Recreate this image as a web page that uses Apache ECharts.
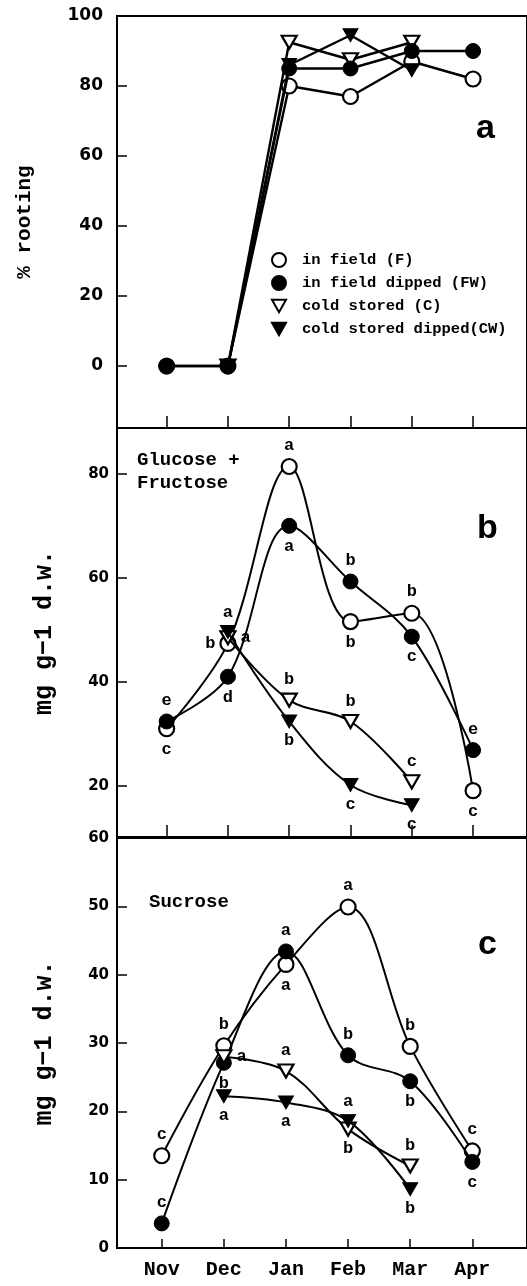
<!DOCTYPE html>
<html><head><meta charset="utf-8">
<script src="https://cdn.jsdelivr.net/npm/echarts@6/dist/echarts.min.js"></script>
<style>html,body{margin:0;padding:0;background:#fff}#c{width:527px;height:1286px}</style>
</head><body><div id="c"></div>
<script>
// ---- data ----
var months = ['Nov','Dec','Jan','Feb','Mar','Apr'];
var seriesNames = ['in field (F)','in field dipped (FW)','cold stored (C)','cold stored dipped(CW)'];
var rootTicks = [0,20,40,60,80,100];
var glucTicks = [20,40,60,80];
var sucTicks = [0,10,20,30,40,50,60];

// panel a: % rooting
var rootF  = [0, 0, 80, 77, 87, 82];
var rootFW = [0, 0, 85, 85, 90, 90];
var rootC  = [null, 0, 92.5, 87.5, 92.5, null];
var rootCW = [null, 0, 86, 94.5, 84.5, null];

// panel b: glucose + fructose
var glucF  = [31, 47.4, 81.4, 51.6, 53.2, 19.1];
var glucFW = [32.4, 41, 70, 59.3, 48.7, 26.9];
var glucC  = [null, 48.5, 36.5, 32.4, 20.8, null];
var glucCW = [null, 49.6, 32.4, 20.2, 16.3, null];
var glucLetF  = ['c','b','a','b','b','c'];
var glucLetFW = ['e','d','a','b','c','e'];
var glucLetC  = [null,'a','b','b','c',null];
var glucLetCW = [null,'a','b','c','c',null];
var glucPosF  = ['bottom','left','top','bottom','top','bottom'];
var glucPosFW = ['top','bottom','bottom','top','bottom','top'];
var glucPosC  = [null,'right','top','top','top',null];
var glucPosCW = [null,'top','bottom','bottom','bottom',null];

// panel c: sucrose
var sucF  = [13.5, 29.6, 41.5, 49.9, 29.5, 14.2];
var sucFW = [3.6, 27.1, 43.4, 28.2, 24.4, 12.6];
var sucC  = [null, 28, 25.9, 17.4, 12, null];
var sucCW = [null, 22.2, 21.3, 18.6, 8.6, null];
var sucLetF  = ['c','b','a','a','b','c'];
var sucLetFW = ['c','b','a','b','b','c'];
var sucLetC  = [null,'a','a','b','b',null];
var sucLetCW = [null,'a','a','a','b',null];
var sucPosF  = ['top','top','bottom','top','top','top'];
var sucPosFW = ['top','bottom','top','top','bottom','bottom'];
var sucPosC  = [null,'right','top','bottom','top',null];
var sucPosCW = [null,'bottom','bottom','top','bottom',null];

// ---- styling ----
var MONO = '"Liberation Mono", "DejaVu Sans Mono", monospace';
var SANS = '"DejaVu Sans", "Liberation Sans", sans-serif';
var TRI = 'path://M0,0L10,0L5,8.8Z';
var sym = [
  {symbol:'circle', fill:'#fff'},
  {symbol:'circle', fill:'#000'},
  {symbol:TRI, fill:'#fff'},
  {symbol:TRI, fill:'#000'}
];
var zPanelA = [4, 6, 3, 5];

function mkData(vals, lets, pos){
  var out = [];
  vals.forEach(function(v,i){
    if (v === null || v === undefined) return;
    var d = {value:[i, v]};
    if (lets && lets[i]) {
      d.label = {show:true, position:pos[i], formatter:lets[i], distance:4};
    }
    out.push(d);
  });
  return out;
}

function mkSeries(panel, k, vals, lets, pos, smooth){
  var s = sym[k];
  return {
    type:'line', name:seriesNames[k], xAxisIndex:panel, yAxisIndex:panel,
    data:mkData(vals, lets, pos), smooth:smooth ? 0.35 : false,
    symbol:s.symbol, symbolSize: s.symbol==='circle' ? 15 : [15,13],
    showAllSymbol:true,
    lineStyle:{color:'#000', width: panel===0 ? 2.4 : 2},
    itemStyle:{color:s.fill, borderColor:'#000', borderWidth: s.fill==='#fff' ? 2.2 : 1},
    label:{show:false, color:'#000', fontFamily:MONO, fontWeight:'bold', fontSize:17},
    emphasis:{disabled:true}, z: panel===0 ? zPanelA[k] : 3 + k,
    animation:false
  };
}

var grids = [
  {left:117, top:16, right:-2, height:412},
  {left:117, top:428, right:-2, height:409},
  {left:117, top:838, right:-2, height:410}
];
var xRanges = [[-0.81, 5.88], [-0.81, 5.88], [-0.72, 5.88]];
var yRanges = [[-17.7, 100], [10.2, 88.8], [0, 60]];
var yTickSets = [rootTicks, glucTicks, sucTicks];
var yNames = ['% rooting', 'mg g\u22121 d.w.', 'mg g\u22121 d.w.'];
var yNameGaps = [82, 60, 60];

var xAxes = [], yAxes = [];
for (var p = 0; p < 3; p++) {
  xAxes.push({
    type:'value', gridIndex:p, min:xRanges[p][0], max:xRanges[p][1],
    splitLine:{show:false},
    axisLine:{show:false, onZero:false},
    axisTick:{show:true, inside:true, length: p===2 ? 9 : 12, customValues:[0,1,2,3,4,5], lineStyle:{color:'#000', width:1.5}},
    axisLabel:{show: p===2, customValues:[0,1,2,3,4,5], formatter:function(v){return months[Math.round(v)];},
      color:'#000', fontFamily:MONO, fontWeight:'bold', fontSize:20, margin:12}
  });
  yAxes.push({
    type:'value', gridIndex:p, min:yRanges[p][0], max:yRanges[p][1],
    splitLine:{show:false},
    axisLine:{show:false, onZero:false},
    axisTick:{show:true, inside:true, length:10, customValues:yTickSets[p], lineStyle:{color:'#000', width:1.5}},
    axisLabel:{customValues:yTickSets[p], color:'#000', fontFamily:SANS, fontWeight:'bold',
      fontSize: p===0 ? 17 : 15, margin: p===0 ? 14 : 8},
    name:yNames[p], nameLocation:'middle', nameRotate:90, nameGap:yNameGaps[p],
    nameTextStyle:{color:'#000', fontFamily:MONO, fontSize: p===0 ? 21 : 25, fontWeight:'bold'}
  });
}
grids.forEach(function(g){ g.show = true; g.borderColor = '#000'; g.borderWidth = 2; g.backgroundColor = 'transparent'; });

var series = [
  mkSeries(0,0,rootF), mkSeries(0,1,rootFW), mkSeries(0,2,rootC), mkSeries(0,3,rootCW),
  mkSeries(1,0,glucF,glucLetF,glucPosF,true), mkSeries(1,1,glucFW,glucLetFW,glucPosFW,true),
  mkSeries(1,2,glucC,glucLetC,glucPosC,true), mkSeries(1,3,glucCW,glucLetCW,glucPosCW,true),
  mkSeries(2,0,sucF,sucLetF,sucPosF,true), mkSeries(2,1,sucFW,sucLetFW,sucPosFW,true),
  mkSeries(2,2,sucC,sucLetC,sucPosC,true), mkSeries(2,3,sucCW,sucLetCW,sucPosCW,true)
];

var chart = echarts.init(document.getElementById('c'), null, {renderer:'canvas'});
chart.setOption({
  animation:false,
  backgroundColor:'#fff',
  grid:grids, xAxis:xAxes, yAxis:yAxes, series:series,
  legend:{
    orient:'vertical', left:266, top:247, itemGap:7, itemWidth:14, itemHeight:14,
    selectedMode:false,
    data:seriesNames.map(function(n,k){ return {name:n, icon: sym[k].symbol, itemStyle:{color:sym[k].fill, borderColor:'#000', borderWidth:2}}; }),
    textStyle:{color:'#000', fontFamily:MONO, fontWeight:'bold', fontSize:15.5, padding:[0,0,0,11]}
  },
  graphic:[
    {type:'text', left:476, top:112, style:{text:'a', font:'bold 34px "Liberation Sans", sans-serif', fill:'#000'}},
    {type:'text', left:477, top:512, style:{text:'b', font:'bold 34px "Liberation Sans", sans-serif', fill:'#000'}},
    {type:'text', left:478, top:928, style:{text:'c', font:'bold 34px "Liberation Sans", sans-serif', fill:'#000'}},
    {type:'text', left:137, top:449, style:{text:'Glucose +\nFructose', font:'bold 19px "Liberation Mono", monospace', lineHeight:23, fill:'#000'}},
    {type:'text', left:149, top:893, style:{text:'Sucrose', font:'bold 19px "Liberation Mono", monospace', fill:'#000'}}
  ]
});
</script></body></html>
